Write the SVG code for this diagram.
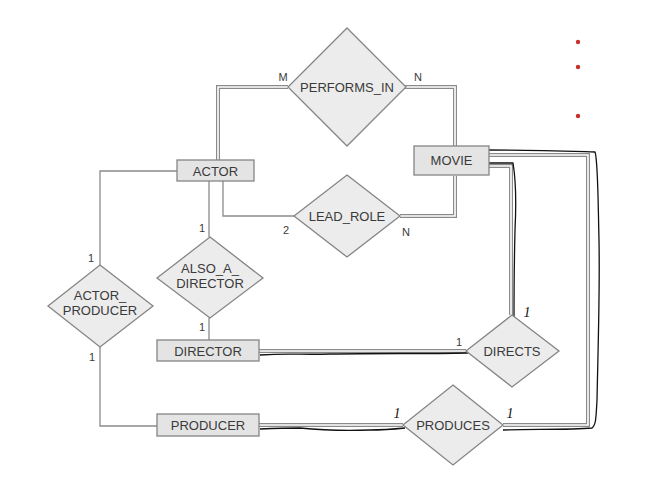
<svg xmlns="http://www.w3.org/2000/svg" width="661" height="485" viewBox="0 0 661 485">
<style>
.ent{fill:#e4e4e4;stroke:#858585;stroke-width:1.3}
.rel{fill:#ececec;stroke:#858585;stroke-width:1.3}
.t{font-family:"Liberation Sans",Arial,sans-serif;font-size:13px;fill:#3a3a3a;text-anchor:middle}
.c{font-family:"Liberation Sans",Arial,sans-serif;font-size:11px;fill:#3a3a3a;text-anchor:middle}
.h{font-family:"Liberation Serif","Times New Roman",serif;font-size:14px;fill:#111;font-style:italic;text-anchor:middle}
.s{fill:none;stroke:#8a8a8a;stroke-width:1.3}
.dO{fill:none;stroke:#8a8a8a;stroke-width:4}
.dI{fill:none;stroke:#ffffff;stroke-width:1.6}
.k{fill:none;stroke:#111;stroke-width:1.3;stroke-linejoin:round}
</style>
<rect width="661" height="485" fill="#ffffff"/>
<g id="connectors">
  <path class="s" d="M209,181 V237"/>
  <path class="s" d="M223,181 V216 H294"/>
  <path class="s" d="M177,171 H100 V265"/>
  <path class="s" d="M100,347 V426 H157"/>
  <path class="s" d="M209,318 V340"/>
  <g id="double">
    <path class="dO" d="M218,160 V87 H288"/>
    <path class="dO" d="M405,87 H455 V146"/>
    <path class="dO" d="M400,216 H455 V176"/>
    <path class="dO" d="M259,351 H466"/>
    <path class="dO" d="M259,425 H403"/>
    <path class="dO" d="M489,166 H511 V315"/>
    <path class="dO" d="M489,155 H588 V425 H503"/>
    <path class="dI" d="M218,160 V87 H288"/>
    <path class="dI" d="M405,87 H455 V146"/>
    <path class="dI" d="M400,216 H455 V176"/>
    <path class="dI" d="M259,351 H466"/>
    <path class="dI" d="M259,425 H403"/>
    <path class="dI" d="M489,166 H511 V315"/>
    <path class="dI" d="M489,155 H588 V425 H503"/>
  </g>
  <g id="handdrawn">
    <path class="k" d="M260,355 C290,353 300,355 330,354 C380,353 420,354 468,353"/>
    <path class="k" d="M260,429 C285,428 290,428 300,428 C320,430 340,431 370,430 C385,430 395,429 405,428"/>
    <path class="k" d="M489,163 H513 C515,175 517,190 515,230 C514,270 514,300 514,322"/>
    <path class="k" d="M488,150 C530,150 560,151 595,152 C598,160 598,200 599,240 C600,290 598,350 597,400 C596,418 596,425 592,428 C570,430 530,429 503,430"/>
  </g>
</g>
<g id="performs_in">
  <polygon class="rel" points="347,28 406,87 347,146 288,87"/>
  <text class="t" x="347" y="91.5">PERFORMS_IN</text>
</g>
<g id="lead_role">
  <polygon class="rel" points="347,175 400,216 347,257 294,216"/>
  <text class="t" x="347" y="220.5">LEAD_ROLE</text>
</g>
<g id="also_a_director">
  <polygon class="rel" points="210,237 263,278 210,318 157,278"/>
  <text class="t" x="210" y="273">ALSO_A_</text>
  <text class="t" x="210" y="288">DIRECTOR</text>
</g>
<g id="actor_producer">
  <polygon class="rel" points="100,265 153,306 100,347 48,306"/>
  <text class="t" x="100" y="300">ACTOR_</text>
  <text class="t" x="100" y="315">PRODUCER</text>
</g>
<g id="directs">
  <polygon class="rel" points="512,315 559,351 512,387 466,351"/>
  <text class="t" x="512" y="355.5">DIRECTS</text>
</g>
<g id="produces">
  <polygon class="rel" points="453,385 503,425 453,465 403,425"/>
  <text class="t" x="453" y="429.5">PRODUCES</text>
</g>
<g id="actor">
  <rect class="ent" x="177" y="160" width="77" height="21"/>
  <text class="t" x="215.5" y="175.5">ACTOR</text>
</g>
<g id="movie">
  <rect class="ent" x="414" y="146" width="75" height="29"/>
  <text class="t" x="451.5" y="165">MOVIE</text>
</g>
<g id="director">
  <rect class="ent" x="157" y="340" width="102" height="21"/>
  <text class="t" x="208" y="355.5">DIRECTOR</text>
</g>
<g id="producer">
  <rect class="ent" x="157" y="414" width="102" height="22"/>
  <text class="t" x="208" y="429.5">PRODUCER</text>
</g>
<g id="labels">
  <text class="c" x="283" y="81">M</text>
  <text class="c" x="418" y="81">N</text>
  <text class="c" x="286" y="234">2</text>
  <text class="c" x="406" y="236">N</text>
  <text class="c" x="202" y="232">1</text>
  <text class="c" x="202" y="331">1</text>
  <text class="c" x="91" y="262">1</text>
  <text class="c" x="92" y="361">1</text>
  <text class="c" x="459" y="346">1</text>
  <text class="h" x="527" y="317">1</text>
  <text class="h" x="397" y="418">1</text>
  <text class="h" x="510" y="418">1</text>
</g>
<g id="bullets" fill="#c8302a">
  <circle cx="578" cy="42" r="2.2"/>
  <circle cx="578" cy="67" r="2.2"/>
  <circle cx="578" cy="116" r="2.2"/>
</g>
</svg>
